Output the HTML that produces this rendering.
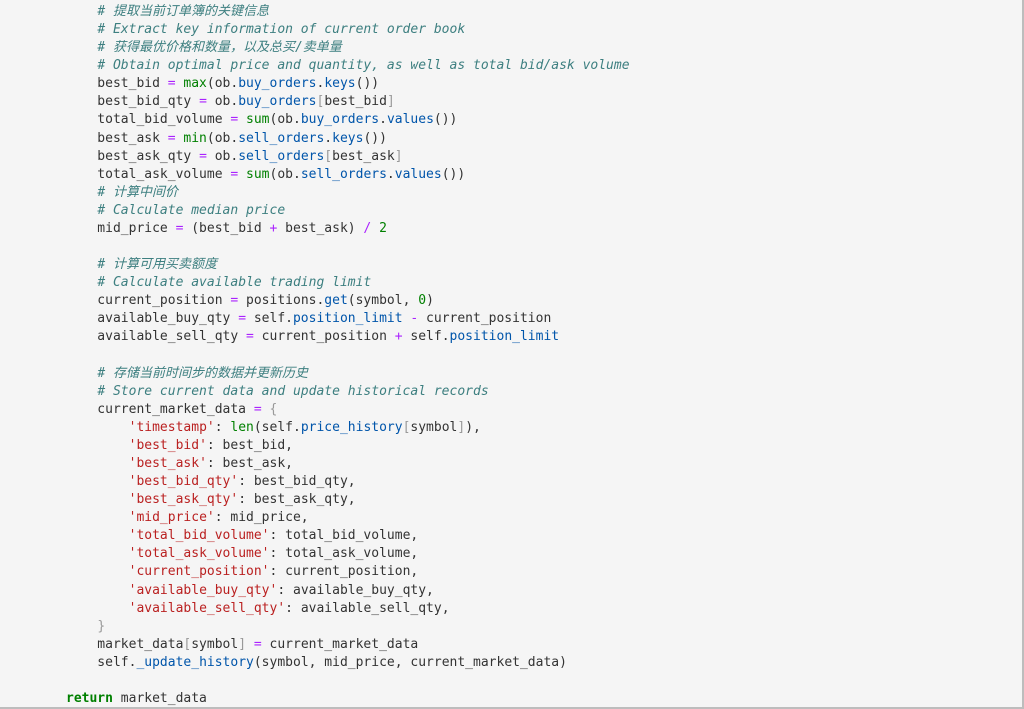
<!DOCTYPE html>
<html><head><meta charset="utf-8"><style>
html,body{margin:0;padding:0;}
body{width:1024px;height:709px;background:#fff;overflow:hidden;}
.box{position:absolute;left:0;top:0;width:1022px;height:707px;background:#f5f5f5;border-right:2px solid #bdbdbd;border-bottom:2px solid #bdbdbd;}
pre{position:absolute;left:66px;top:3px;margin:0;font-family:"DejaVu Sans Mono","Liberation Mono","Noto Sans CJK SC",monospace;font-size:13px;line-height:18.08px;color:#333;}
.c{color:#3d7f80;font-style:italic;}
.o{color:#aa22ff;}
.b{color:#008000;}
.a{color:#0055aa;}
.s{color:#ba2121;}
.g{color:#999;}
.k{color:#008000;font-weight:bold;}
</style></head><body><div class="box"></div>
<pre>    <span class="c"># 提取当前订单簿的关键信息</span>
    <span class="c"># Extract key information of current order book</span>
    <span class="c"># 获得最优价格和数量，以及总买/卖单量</span>
    <span class="c"># Obtain optimal price and quantity, as well as total bid/ask volume</span>
    best_bid <span class="o">=</span> <span class="b">max</span>(ob.<span class="a">buy_orders</span>.<span class="a">keys</span>())
    best_bid_qty <span class="o">=</span> ob.<span class="a">buy_orders</span><span class="g">[</span>best_bid<span class="g">]</span>
    total_bid_volume <span class="o">=</span> <span class="b">sum</span>(ob.<span class="a">buy_orders</span>.<span class="a">values</span>())
    best_ask <span class="o">=</span> <span class="b">min</span>(ob.<span class="a">sell_orders</span>.<span class="a">keys</span>())
    best_ask_qty <span class="o">=</span> ob.<span class="a">sell_orders</span><span class="g">[</span>best_ask<span class="g">]</span>
    total_ask_volume <span class="o">=</span> <span class="b">sum</span>(ob.<span class="a">sell_orders</span>.<span class="a">values</span>())
    <span class="c"># 计算中间价</span>
    <span class="c"># Calculate median price</span>
    mid_price <span class="o">=</span> (best_bid <span class="o">+</span> best_ask) <span class="o">/</span> <span class="b">2</span>

    <span class="c"># 计算可用买卖额度</span>
    <span class="c"># Calculate available trading limit</span>
    current_position <span class="o">=</span> positions.<span class="a">get</span>(symbol, <span class="b">0</span>)
    available_buy_qty <span class="o">=</span> self.<span class="a">position_limit</span> <span class="o">-</span> current_position
    available_sell_qty <span class="o">=</span> current_position <span class="o">+</span> self.<span class="a">position_limit</span>

    <span class="c"># 存储当前时间步的数据并更新历史</span>
    <span class="c"># Store current data and update historical records</span>
    current_market_data <span class="o">=</span> <span class="g">{</span>
        <span class="s">'timestamp'</span>: <span class="b">len</span>(self.<span class="a">price_history</span><span class="g">[</span>symbol<span class="g">]</span>),
        <span class="s">'best_bid'</span>: best_bid,
        <span class="s">'best_ask'</span>: best_ask,
        <span class="s">'best_bid_qty'</span>: best_bid_qty,
        <span class="s">'best_ask_qty'</span>: best_ask_qty,
        <span class="s">'mid_price'</span>: mid_price,
        <span class="s">'total_bid_volume'</span>: total_bid_volume,
        <span class="s">'total_ask_volume'</span>: total_ask_volume,
        <span class="s">'current_position'</span>: current_position,
        <span class="s">'available_buy_qty'</span>: available_buy_qty,
        <span class="s">'available_sell_qty'</span>: available_sell_qty,
    <span class="g">}</span>
    market_data<span class="g">[</span>symbol<span class="g">]</span> <span class="o">=</span> current_market_data
    self.<span class="a">_update_history</span>(symbol, mid_price, current_market_data)

<span class="k">return</span> market_data</pre>
</body></html>
